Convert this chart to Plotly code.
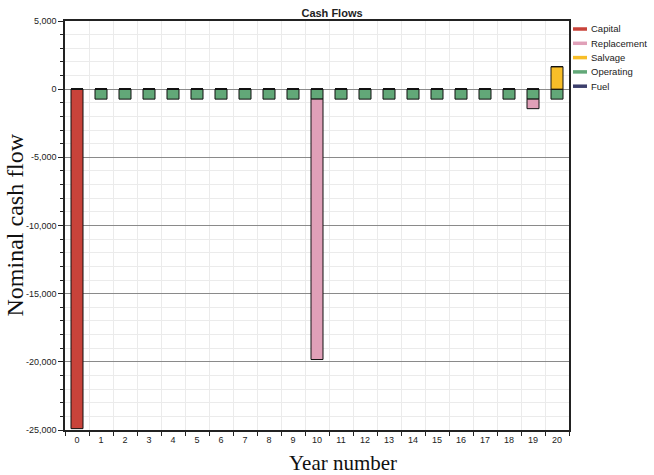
import plotly.graph_objects as go

years = list(range(0, 21))
capital = [-24900] + [0] * 20
replacement = [0] * 10 + [-19100] + [0] * 8 + [-700, 0]
salvage = [0] * 20 + [1650]
operating = [0] + [-730] * 20
fuel = [0] * 21

series_names = ["Capital", "Replacement", "Salvage", "Operating", "Fuel"]
colors = {"Capital": "#C8433A", "Replacement": "#E0A0B8", "Salvage": "#F8BE28",
          "Operating": "#62A878", "Fuel": "#3C3F6C"}
values = {"Capital": capital, "Replacement": replacement, "Salvage": salvage,
          "Operating": operating, "Fuel": fuel}

W, H = 654, 475
ML, MR, MT, MB = 65, 85, 21, 45
PW, PH = W - ML - MR, H - MT - MB

fig = go.Figure()
# stacking order: operating closest to zero
for name in ["Operating", "Capital", "Replacement", "Salvage", "Fuel"]:
    fig.add_trace(go.Bar(x=years, y=values[name], name=name, width=0.5,
                         marker=dict(color=colors[name], line=dict(color="#111", width=1)),
                         showlegend=False))

sans = "Liberation Sans, Arial, sans-serif"
tickfont = dict(family=sans, size=9, color="#222")

# legend drawn at the right side
shapes, annos = [], []
for i, name in enumerate(series_names):
    py = 29 + i * 14.3
    yp = (H - MB - py) / PH
    shapes.append(dict(type="line", xref="paper", yref="paper",
                       x0=(573 - ML) / PW, x1=(587 - ML) / PW, y0=yp, y1=yp,
                       line=dict(color=colors[name], width=3.5)))
    annos.append(dict(text=name, xref="paper", yref="paper", x=(589 - ML) / PW, y=yp,
                      xanchor="left", yanchor="middle", showarrow=False,
                      font=dict(family=sans, size=9.5, color="#222")))

annos += [
    dict(text="Nominal cash flow", xref="paper", yref="paper", x=0, y=0.5,
         xanchor="center", yanchor="middle", textangle=-90, showarrow=False,
         xshift=-51, font=dict(family="Liberation Serif, Times New Roman", size=24, color="#111")),
    dict(text="Year number", xref="paper", yref="paper", x=(343 - ML) / PW, y=0,
         xanchor="center", yanchor="top", showarrow=False, yshift=-19,
         font=dict(family="Liberation Serif, Times New Roman", size=21, color="#111")),
]

fig.update_layout(
    width=W, height=H, barmode="relative", showlegend=False,
    paper_bgcolor="white", plot_bgcolor="white",
    margin=dict(l=ML, r=MR, t=MT, b=MB, autoexpand=False),
    title=dict(text="<b>Cash Flows</b>", x=(332 / W), xanchor="center", y=1 - 13 / H, yanchor="middle",
               font=dict(family=sans, size=11, color="#222")),
    xaxis=dict(range=[-0.5, 20.5], tickmode="array", tickvals=years,
               ticktext=[str(y) for y in years], ticks="", showgrid=False, automargin=False,
               showline=True, linecolor="#222", linewidth=1.5, mirror=True, tickfont=tickfont,
               zeroline=False,
               minor=dict(tick0=0.5, dtick=1, showgrid=True, gridcolor="#EBEBEB",
                          ticks="outside", ticklen=4, tickcolor="#222")),
    yaxis=dict(range=[-25000, 5000], tickmode="array", automargin=False,
               tickvals=[5000, 0, -5000, -10000, -15000, -20000, -25000],
               ticktext=["5,000", "0", "-5,000", "-10,000", "-15,000", "-20,000", "-25,000"],
               showgrid=True, gridcolor="#8A8A8A", gridwidth=1, zeroline=True,
               zerolinecolor="#8A8A8A", zerolinewidth=1,
               ticks="outside", ticklen=5, tickcolor="#222",
               showline=True, linecolor="#222", linewidth=1.5, mirror=True, tickfont=tickfont,
               minor=dict(dtick=1000, showgrid=True, gridcolor="#EBEBEB",
                          ticks="outside", ticklen=3, tickcolor="#222")),
    shapes=shapes,
    annotations=annos,
)

fig.write_html("out.html", config={"displayModeBar": False},
               post_script="document.body.style.margin='0';document.body.style.padding='0';")
